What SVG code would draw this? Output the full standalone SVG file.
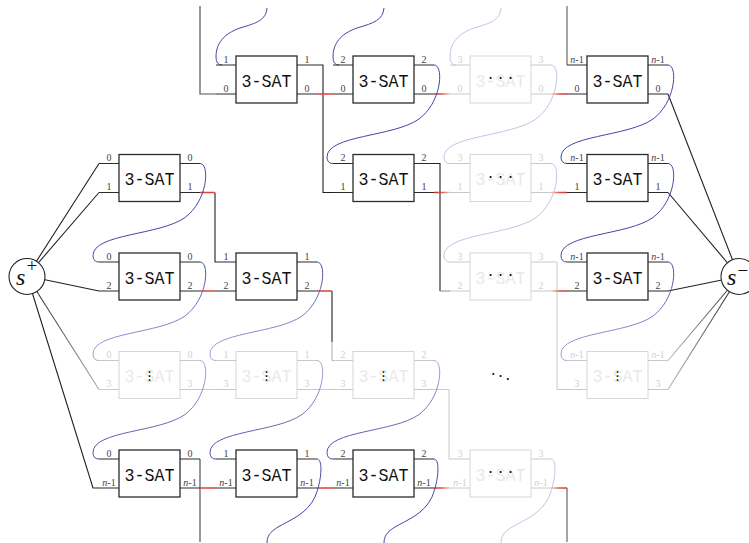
<svg xmlns="http://www.w3.org/2000/svg" width="749" height="543" viewBox="0 0 749 543">
<defs>
<linearGradient id="redOut" gradientUnits="userSpaceOnUse" x1="434" y1="0" x2="450" y2="0"><stop offset="0" stop-color="#c83a30"/><stop offset="0.45" stop-color="#d65040"/><stop offset="1" stop-color="#f6cbb2"/></linearGradient>
<linearGradient id="redIn" gradientUnits="userSpaceOnUse" x1="551" y1="0" x2="567" y2="0"><stop offset="0" stop-color="#f6cbb2"/><stop offset="0.55" stop-color="#d65040"/><stop offset="1" stop-color="#c83a30"/></linearGradient>
<linearGradient id="blueOut" x1="0" y1="0" x2="0" y2="1"><stop offset="0" stop-color="#4646a6"/><stop offset="1" stop-color="#a8a8da"/></linearGradient>
<linearGradient id="blueIn" x1="0" y1="0" x2="0" y2="1"><stop offset="0" stop-color="#a8a8da"/><stop offset="1" stop-color="#4646a6"/></linearGradient>
<linearGradient id="spFade" gradientUnits="userSpaceOnUse" x1="27" y1="276" x2="99" y2="389.5"><stop offset="0" stop-color="#222"/><stop offset="1" stop-color="#aaa"/></linearGradient>
<linearGradient id="smFade" gradientUnits="userSpaceOnUse" x1="739" y1="0" x2="668" y2="0"><stop offset="0" stop-color="#222"/><stop offset="1" stop-color="#bbb"/></linearGradient>
<style>
.box{fill:#fff;stroke:#2b2b2b;stroke-width:1.3}
.gbox{fill:#fff;stroke:#d6d6d6;stroke-width:1}
.st{fill:none;stroke:#2b2b2b;stroke-width:1.1}
.gst{fill:none;stroke:#c8c8c8;stroke-width:1}
.lb{font-family:"Liberation Serif",serif;font-size:10px;fill:#444;text-anchor:middle}
.glb{font-family:"Liberation Serif",serif;font-size:10px;fill:#d0d0d0;text-anchor:middle}
.sat{font-family:"Liberation Mono",monospace;font-size:19px;fill:#111;text-anchor:middle}
.gsat{font-family:"Liberation Mono",monospace;font-size:19px;fill:#e9e9e9;text-anchor:middle}
.dot{font-family:"DejaVu Sans",sans-serif;font-size:16px;fill:#111;text-anchor:middle}
.vdot{font-family:"DejaVu Sans",sans-serif;font-size:14px;fill:#111;text-anchor:middle}
.blk{fill:none;stroke:#222;stroke-width:1.1}
.dg{fill:none;stroke:#555;stroke-width:1.2}
.mg{fill:none;stroke:#6a6a6a;stroke-width:1.2}
.lg{fill:none;stroke:#c8c8c8;stroke-width:1}
.blue{fill:none;stroke:#4646a6;stroke-width:1}
.fblue{fill:none;stroke:#c4c4e6;stroke-width:1}
.bo{fill:none;stroke:url(#blueOut);stroke-width:1}
.bi{fill:none;stroke:url(#blueIn);stroke-width:1}
.red{fill:none;stroke:#d8463c;stroke-width:1.3}
.redf{fill:none;stroke:#f2beb4;stroke-width:1.2}
.ro{fill:none;stroke:url(#redOut);stroke-width:1.3}
.ri{fill:none;stroke:url(#redIn);stroke-width:1.3}
.term{fill:#fff;stroke:#222;stroke-width:1.1}
.it{font-style:italic}
.tm{font-family:"Liberation Serif",serif;fill:#111}
</style>
</defs>
<rect width="749" height="543" fill="#fff"/>
<g id="connectors">
<path class="blk" d="M27,276L99,163.5M27,276L99,192.5M27,276L99,291M27,276L93,488H99"/>
<path fill="none" stroke="url(#spFade)" stroke-width="1.1" d="M27,276L99,389.5"/>
<path class="blk" d="M739,276.5L668,94M739,276.5L668,192.5M739,276.5L668,291"/>
<path fill="none" stroke="url(#smFade)" stroke-width="1.1" d="M739,276.5L668,360.5M739,276.5L668,389.5"/>
<path class="dg" d="M200,6V94H216M200,459V542"/>
<path class="mg" d="M567,6V65M567,488V542"/>
<path class="blk" d="M317,65H323V192.5H333"/>
<path class="blk" d="M215,192.5V262H216"/>
<path class="blk" d="M434,163.5H440V291"/>
<path fill="none" stroke="#888" d="M440,291H450"/>
<path class="blk" d="M332,291V342"/>
<path fill="none" stroke="#aaa" d="M332,342V360.5H333"/>
<path class="lg" d="M551,262H557V389.5H567"/>
<path class="lg" d="M449,389.5V459H450"/>
<path class="red" d="M317,94H333M200,192.5H215M200,291H216M317,291H332M200,488H216M317,488H333"/>
<path class="redf" d="M200,389.5H216M317,389.5H333M434,389.5H449"/>
<path class="ro" d="M434,94H450M434,192.5H450M434,488H450"/>
<path class="ri" d="M551,94H567M551,192.5H567M551,291H567M551,488H567"/>
<path class="blue" d="M200,163.5C210,163.5 208,200.5 185,217.5C160,235.5 93,233.5 93,255.5Q93,262 99,262"/>
<path class="bo" d="M200,262C210,262 208,299 185,316C160,334 93,332 93,354Q93,360.5 99,360.5"/>
<path class="bi" d="M200,360.5C210,360.5 208,397.5 185,414.5C160,432.5 93,430.5 93,452.5Q93,459 99,459"/>
<path class="bo" d="M317,262C327,262 325,299 302,316C277,334 210,332 210,354Q210,360.5 216,360.5"/>
<path class="bi" d="M317,360.5C327,360.5 325,397.5 302,414.5C277,432.5 210,430.5 210,452.5Q210,459 216,459"/>
<path class="blue" d="M434,65C444,65 442,102 419,119C394,137 327,135 327,157Q327,163.5 333,163.5"/>
<path class="bi" d="M434,360.5C444,360.5 442,397.5 419,414.5C394,432.5 327,430.5 327,452.5Q327,459 333,459"/>
<path class="fblue" d="M551,65C561,65 559,102 536,119C511,137 444,135 444,157Q444,163.5 450,163.5"/>
<path class="fblue" d="M551,163.5C561,163.5 559,200.5 536,217.5C511,235.5 444,233.5 444,255.5Q444,262 450,262"/>
<path class="blue" d="M668,65C678,65 676,102 653,119C628,137 561,135 561,157Q561,163.5 567,163.5"/>
<path class="blue" d="M668,163.5C678,163.5 676,200.5 653,217.5C628,235.5 561,233.5 561,255.5Q561,262 567,262"/>
<path class="bo" d="M668,262C678,262 676,299 653,316C628,334 561,332 561,354Q561,360.5 567,360.5"/>
<path class="blue" d="M267,8C266,20 257,23 240,28C223,34 216,44 216,57Q216,65 222,65"/>
<path class="blue" d="M384,8C383,20 374,23 357,28C340,34 333,44 333,57Q333,65 339,65"/>
<path class="fblue" d="M501,8C500,20 491,23 474,28C457,34 450,44 450,57Q450,65 456,65"/>
<path class="blue" d="M317,459C323,459 322,480 315,497C307,514 290,520 278,527C270,532 267,536 267,543"/>
<path class="blue" d="M434,459C440,459 439,480 432,497C424,514 407,520 395,527C387,532 384,536 384,543"/>
<path class="fblue" d="M551,459C557,459 556,480 549,497C541,514 524,520 512,527C504,532 501,536 501,543"/>
</g>

<g id="r0c1"><rect class="box" x="236" y="56" width="61" height="47"/><path class="st" d="M216,65H236M216,94H236M297,65H317M297,94H317"/><text class="lb" x="226" y="62.5">1</text><text class="lb" x="226" y="91.5">0</text><text class="lb" x="307" y="62.5">1</text><text class="lb" x="307" y="91.5">0</text><text class="sat" x="266.5" y="86.5" textLength="50" lengthAdjust="spacingAndGlyphs">3-SAT</text></g>
<g id="r0c2"><rect class="box" x="353" y="56" width="61" height="47"/><path class="st" d="M333,65H353M333,94H353M414,65H434M414,94H434"/><text class="lb" x="343" y="62.5">2</text><text class="lb" x="343" y="91.5">0</text><text class="lb" x="424" y="62.5">2</text><text class="lb" x="424" y="91.5">0</text><text class="sat" x="383.5" y="86.5" textLength="50" lengthAdjust="spacingAndGlyphs">3-SAT</text></g>
<g id="r0c3"><rect class="gbox" x="470" y="56" width="61" height="47"/><path class="gst" d="M450,65H470M450,94H470M531,65H551M531,94H551"/><text class="glb" x="460" y="62.5">3</text><text class="glb" x="460" y="91.5">0</text><text class="glb" x="541" y="62.5">3</text><text class="glb" x="541" y="91.5">0</text><text class="gsat" x="500.5" y="86.5" textLength="50" lengthAdjust="spacingAndGlyphs">3-SAT</text><text class="dot" x="490.5 500.5 510.5" y="84.3">···</text></g>
<g id="r0c4"><rect class="box" x="587" y="56" width="61" height="47"/><path class="st" d="M567,65H587M567,94H587M648,65H668M648,94H668"/><text class="lb" x="577" y="62.5"><tspan class="it">n</tspan>-1</text><text class="lb" x="577" y="91.5">0</text><text class="lb" x="658" y="62.5"><tspan class="it">n</tspan>-1</text><text class="lb" x="658" y="91.5">0</text><text class="sat" x="617.5" y="86.5" textLength="50" lengthAdjust="spacingAndGlyphs">3-SAT</text></g>

<g id="r1c0"><rect class="box" x="119" y="154.5" width="61" height="47"/><path class="st" d="M99,163.5H119M99,192.5H119M180,163.5H200M180,192.5H200"/><text class="lb" x="109" y="161">0</text><text class="lb" x="109" y="190">1</text><text class="lb" x="190" y="161">0</text><text class="lb" x="190" y="190">1</text><text class="sat" x="149.5" y="185" textLength="50" lengthAdjust="spacingAndGlyphs">3-SAT</text></g>
<g id="r1c2"><rect class="box" x="353" y="154.5" width="61" height="47"/><path class="st" d="M333,163.5H353M333,192.5H353M414,163.5H434M414,192.5H434"/><text class="lb" x="343" y="161">2</text><text class="lb" x="343" y="190">1</text><text class="lb" x="424" y="161">2</text><text class="lb" x="424" y="190">1</text><text class="sat" x="383.5" y="185" textLength="50" lengthAdjust="spacingAndGlyphs">3-SAT</text></g>
<g id="r1c3"><rect class="gbox" x="470" y="154.5" width="61" height="47"/><path class="gst" d="M450,163.5H470M450,192.5H470M531,163.5H551M531,192.5H551"/><text class="glb" x="460" y="161">3</text><text class="glb" x="460" y="190">1</text><text class="glb" x="541" y="161">3</text><text class="glb" x="541" y="190">1</text><text class="gsat" x="500.5" y="185" textLength="50" lengthAdjust="spacingAndGlyphs">3-SAT</text><text class="dot" x="490.5 500.5 510.5" y="182.8">···</text></g>
<g id="r1c4"><rect class="box" x="587" y="154.5" width="61" height="47"/><path class="st" d="M567,163.5H587M567,192.5H587M648,163.5H668M648,192.5H668"/><text class="lb" x="577" y="161"><tspan class="it">n</tspan>-1</text><text class="lb" x="577" y="190">1</text><text class="lb" x="658" y="161"><tspan class="it">n</tspan>-1</text><text class="lb" x="658" y="190">1</text><text class="sat" x="617.5" y="185" textLength="50" lengthAdjust="spacingAndGlyphs">3-SAT</text></g>

<g id="r2c0"><rect class="box" x="119" y="253" width="61" height="47"/><path class="st" d="M99,262H119M99,291H119M180,262H200M180,291H200"/><text class="lb" x="109" y="259.5">0</text><text class="lb" x="109" y="288.5">2</text><text class="lb" x="190" y="259.5">0</text><text class="lb" x="190" y="288.5">2</text><text class="sat" x="149.5" y="283.5" textLength="50" lengthAdjust="spacingAndGlyphs">3-SAT</text></g>
<g id="r2c1"><rect class="box" x="236" y="253" width="61" height="47"/><path class="st" d="M216,262H236M216,291H236M297,262H317M297,291H317"/><text class="lb" x="226" y="259.5">1</text><text class="lb" x="226" y="288.5">2</text><text class="lb" x="307" y="259.5">1</text><text class="lb" x="307" y="288.5">2</text><text class="sat" x="266.5" y="283.5" textLength="50" lengthAdjust="spacingAndGlyphs">3-SAT</text></g>
<g id="r2c3"><rect class="gbox" x="470" y="253" width="61" height="47"/><path class="gst" d="M450,262H470M450,291H470M531,262H551M531,291H551"/><text class="glb" x="460" y="259.5">3</text><text class="glb" x="460" y="288.5">2</text><text class="glb" x="541" y="259.5">3</text><text class="glb" x="541" y="288.5">2</text><text class="gsat" x="500.5" y="283.5" textLength="50" lengthAdjust="spacingAndGlyphs">3-SAT</text><text class="dot" x="490.5 500.5 510.5" y="281.3">···</text></g>
<g id="r2c4"><rect class="box" x="587" y="253" width="61" height="47"/><path class="st" d="M567,262H587M567,291H587M648,262H668M648,291H668"/><text class="lb" x="577" y="259.5"><tspan class="it">n</tspan>-1</text><text class="lb" x="577" y="288.5">2</text><text class="lb" x="658" y="259.5"><tspan class="it">n</tspan>-1</text><text class="lb" x="658" y="288.5">2</text><text class="sat" x="617.5" y="283.5" textLength="50" lengthAdjust="spacingAndGlyphs">3-SAT</text></g>

<g id="r3c0"><rect class="gbox" x="119" y="351.5" width="61" height="47"/><path class="gst" d="M99,360.5H119M99,389.5H119M180,360.5H200M180,389.5H200"/><text class="glb" x="109" y="358">0</text><text class="glb" x="109" y="387">3</text><text class="glb" x="190" y="358">0</text><text class="glb" x="190" y="387">3</text><text class="gsat" x="149.5" y="382" textLength="50" lengthAdjust="spacingAndGlyphs">3-SAT</text><text class="vdot" x="149.5 149.5 149.5" y="377.4 381.2 385">···</text></g>
<g id="r3c1"><rect class="gbox" x="236" y="351.5" width="61" height="47"/><path class="gst" d="M216,360.5H236M216,389.5H236M297,360.5H317M297,389.5H317"/><text class="glb" x="226" y="358">1</text><text class="glb" x="226" y="387">3</text><text class="glb" x="307" y="358">1</text><text class="glb" x="307" y="387">3</text><text class="gsat" x="266.5" y="382" textLength="50" lengthAdjust="spacingAndGlyphs">3-SAT</text><text class="vdot" x="266.5 266.5 266.5" y="377.4 381.2 385">···</text></g>
<g id="r3c2"><rect class="gbox" x="353" y="351.5" width="61" height="47"/><path class="gst" d="M333,360.5H353M333,389.5H353M414,360.5H434M414,389.5H434"/><text class="glb" x="343" y="358">2</text><text class="glb" x="343" y="387">3</text><text class="glb" x="424" y="358">2</text><text class="glb" x="424" y="387">3</text><text class="gsat" x="383.5" y="382" textLength="50" lengthAdjust="spacingAndGlyphs">3-SAT</text><text class="vdot" x="383.5 383.5 383.5" y="377.4 381.2 385">···</text></g>
<g id="r3c3"><text class="dot" x="493.3 500.5 507.7" y="379.8 382.1 384.8">···</text></g>
<g id="r3c4"><rect class="gbox" x="587" y="351.5" width="61" height="47"/><path class="gst" d="M567,360.5H587M567,389.5H587M648,360.5H668M648,389.5H668"/><text class="glb" x="577" y="358"><tspan class="it">n</tspan>-1</text><text class="glb" x="577" y="387">3</text><text class="glb" x="658" y="358"><tspan class="it">n</tspan>-1</text><text class="glb" x="658" y="387">3</text><text class="gsat" x="617.5" y="382" textLength="50" lengthAdjust="spacingAndGlyphs">3-SAT</text><text class="vdot" x="617.5 617.5 617.5" y="377.4 381.2 385">···</text></g>

<g id="r4c0"><rect class="box" x="119" y="450" width="61" height="47"/><path class="st" d="M99,459H119M99,488H119M180,459H200M180,488H200"/><text class="lb" x="109" y="456.5">0</text><text class="lb" x="109" y="485.5"><tspan class="it">n</tspan>-1</text><text class="lb" x="190" y="456.5">0</text><text class="lb" x="190" y="485.5"><tspan class="it">n</tspan>-1</text><text class="sat" x="149.5" y="480.5" textLength="50" lengthAdjust="spacingAndGlyphs">3-SAT</text></g>
<g id="r4c1"><rect class="box" x="236" y="450" width="61" height="47"/><path class="st" d="M216,459H236M216,488H236M297,459H317M297,488H317"/><text class="lb" x="226" y="456.5">1</text><text class="lb" x="226" y="485.5"><tspan class="it">n</tspan>-1</text><text class="lb" x="307" y="456.5">1</text><text class="lb" x="307" y="485.5"><tspan class="it">n</tspan>-1</text><text class="sat" x="266.5" y="480.5" textLength="50" lengthAdjust="spacingAndGlyphs">3-SAT</text></g>
<g id="r4c2"><rect class="box" x="353" y="450" width="61" height="47"/><path class="st" d="M333,459H353M333,488H353M414,459H434M414,488H434"/><text class="lb" x="343" y="456.5">2</text><text class="lb" x="343" y="485.5"><tspan class="it">n</tspan>-1</text><text class="lb" x="424" y="456.5">2</text><text class="lb" x="424" y="485.5"><tspan class="it">n</tspan>-1</text><text class="sat" x="383.5" y="480.5" textLength="50" lengthAdjust="spacingAndGlyphs">3-SAT</text></g>
<g id="r4c3"><rect class="gbox" x="470" y="450" width="61" height="47"/><path class="gst" d="M450,459H470M450,488H470M531,459H551M531,488H551"/><text class="glb" x="460" y="456.5">3</text><text class="glb" x="460" y="485.5"><tspan class="it">n</tspan>-1</text><text class="glb" x="541" y="456.5">3</text><text class="glb" x="541" y="485.5"><tspan class="it">n</tspan>-1</text><text class="gsat" x="500.5" y="480.5" textLength="50" lengthAdjust="spacingAndGlyphs">3-SAT</text><text class="dot" x="490.5 500.5 510.5" y="478.3">···</text></g>

<g id="s-plus"><circle class="term" cx="27" cy="276.5" r="18"/><text class="tm" x="16" y="285" font-size="24" font-style="italic">s</text><text class="tm" x="26.5" y="272" font-size="19">+</text></g>
<g id="s-minus"><circle class="term" cx="739" cy="276.5" r="18"/><text class="tm" x="727" y="285" font-size="24" font-style="italic">s</text><text class="tm" x="737.5" y="277" font-size="19">−</text></g>
</svg>
